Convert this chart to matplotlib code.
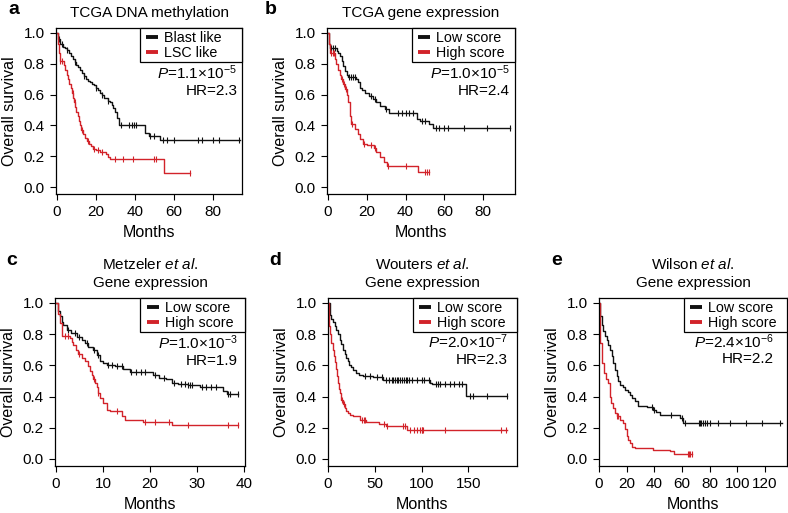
"""Kaplan-Meier survival panels (a-e) redrawn with matplotlib."""

import matplotlib
matplotlib.use("Agg")
import matplotlib.pyplot as plt
from matplotlib.lines import Line2D
import numpy as np

plt.rcParams["font.family"] = ["Liberation Sans", "DejaVu Sans"]
plt.rcParams["mathtext.fontset"] = "custom"
plt.rcParams["mathtext.rm"] = "Liberation Sans"
plt.rcParams["mathtext.it"] = "Liberation Sans:italic"
plt.rcParams["axes.linewidth"] = 0.9

BLACK = "#111111"
RED = "#d2232a"

# ---- panel a: TCGA DNA methylation ----
a_blast_t = [0, 0.5, 1.5, 3, 4, 5, 6, 7, 8, 9, 10, 11, 12, 13, 14, 15, 16, 17, 18,
             19, 20, 21, 22, 23, 24, 26, 27, 28, 29, 30, 31, 32, 45, 47, 53, 94]
a_blast_s = [1.0, 0.96, 0.93, 0.91, 0.90, 0.89, 0.87, 0.85, 0.83, 0.81, 0.79, 0.78,
             0.76, 0.74, 0.72, 0.70, 0.69, 0.68, 0.67, 0.66, 0.645, 0.63, 0.61, 0.60,
             0.58, 0.56, 0.55, 0.53, 0.51, 0.49, 0.45, 0.405, 0.35, 0.33, 0.305, 0.305]
a_blast_cens = [1, 2.5, 5, 9, 14, 20, 23, 26, 33, 37, 38.5, 39.5, 40.5, 48, 50,
                54.5, 56.5, 60, 72.5, 74.5, 80, 83, 93.5]
a_lsc_t = [0, 0.3, 0.8, 1.5, 3.5, 4.3, 5, 5.7, 6.4, 7, 7.6, 8.2, 8.8, 9.4, 10, 10.6,
           11.2, 11.8, 12.5, 13.5, 14.5, 15.5, 16.5, 17.5, 18.5, 20, 22, 25, 26, 27,
           55, 68.5]
a_lsc_s = [1.0, 0.93, 0.87, 0.82, 0.79, 0.76, 0.73, 0.70, 0.67, 0.64, 0.61, 0.58,
           0.55, 0.52, 0.49, 0.46, 0.43, 0.40, 0.37, 0.345, 0.32, 0.30, 0.28, 0.265,
           0.25, 0.24, 0.23, 0.215, 0.195, 0.18, 0.09, 0.09]
a_lsc_cens = [1.5, 2.5, 8, 9, 13, 16, 19, 21, 23, 30, 34, 39, 50, 51, 68.5]

# ---- panel b: TCGA gene expression ----
b_low_t = [0, 0.5, 1, 4.4, 5.2, 6, 7, 7.8, 8.7, 9.6, 10.5, 14.5, 15.5, 16.5, 17.5,
           19, 21, 23, 25, 27, 29.5, 31.5, 46, 47.5, 52, 54, 94]
b_low_s = [1.0, 0.93, 0.90, 0.88, 0.87, 0.85, 0.82, 0.785, 0.75, 0.73, 0.715, 0.70,
           0.68, 0.645, 0.63, 0.61, 0.59, 0.57, 0.55, 0.525, 0.505, 0.48, 0.44, 0.43,
           0.41, 0.385, 0.385]
b_low_cens = [1.5, 2.5, 3.5, 11, 12, 13, 14, 22, 24, 30, 36, 38, 40, 42, 44, 48.5,
              50, 55.5, 57.5, 60, 62, 70, 82, 94]
b_high_t = [0, 0.3, 1, 3.5, 4.3, 5.2, 6, 6.8, 7.8, 8.7, 9.6, 10.4, 11.3, 11.8, 14,
            15.5, 16.5, 18.3, 20, 23.5, 25, 27, 28.7, 30.5, 46.5, 52]
b_high_s = [1.0, 0.93, 0.87, 0.83, 0.80, 0.76, 0.73, 0.70, 0.667, 0.634, 0.60, 0.55,
            0.46, 0.41, 0.375, 0.345, 0.31, 0.28, 0.27, 0.255, 0.225, 0.195, 0.16,
            0.14, 0.095, 0.095]
b_high_cens = [1.5, 2.5, 3, 7, 8.5, 9.3, 12.5, 18.5, 22, 24, 31, 40, 50, 51, 52]

# ---- panel c: Metzeler et al. ----
c_low_t = [0, 0.5, 0.85, 1.2, 1.56, 2.3, 3.3, 4.4, 5.5, 6.2, 6.9, 7.9, 8.7, 9.4, 10,
           10.8, 12.6, 14.3, 15.7, 19.3, 20.7, 22, 23.5, 24.6, 26, 28, 30.6, 35.6,
           36.3, 38.8]
c_low_s = [1.0, 0.95, 0.915, 0.88, 0.86, 0.83, 0.81, 0.785, 0.765, 0.745, 0.72, 0.70,
           0.665, 0.63, 0.615, 0.605, 0.595, 0.58, 0.56, 0.555, 0.54, 0.52, 0.51, 0.49,
           0.48, 0.475, 0.46, 0.435, 0.415, 0.415]
c_low_cens = [2.5, 4, 5, 6.5, 8, 9, 11, 12, 13, 14, 16, 17, 18, 19, 21, 23, 25, 26.5,
              27.5, 28, 28.5, 29, 31, 32, 33, 34, 36.5, 37, 38.8]
c_high_t = [0, 0.4, 0.8, 1.2, 3, 3.4, 3.7, 4.2, 4.75, 5.5, 6.2, 6.9, 7.2, 7.6, 7.9,
            8.3, 8.65, 9.0, 9.4, 10, 10.8, 11.5, 14, 14.7, 18.6, 24.6, 38.8]
c_high_s = [1.0, 0.93, 0.87, 0.79, 0.775, 0.75, 0.73, 0.70, 0.67, 0.65, 0.625, 0.595,
            0.565, 0.54, 0.51, 0.49, 0.46, 0.425, 0.39, 0.36, 0.315, 0.305, 0.275,
            0.25, 0.235, 0.215, 0.215]
c_high_cens = [2, 2.5, 5, 8, 9, 13, 19, 21, 24, 28, 36.5, 38.8]

# ---- panel d: Wouters et al. ----
d_low_t = [0, 1.8, 3.6, 5.4, 7, 9, 11, 12.5, 14, 16, 18, 19.6, 21, 23, 25, 27, 30,
           33, 37.5, 48, 59, 109, 111, 148, 191]
d_low_s = [1.0, 0.925, 0.90, 0.88, 0.855, 0.83, 0.80, 0.765, 0.735, 0.70, 0.67,
           0.647, 0.625, 0.605, 0.59, 0.573, 0.55, 0.54, 0.532, 0.524, 0.505, 0.485,
           0.48, 0.405, 0.405]
d_low_cens = [40, 45, 52, 58, 62, 65, 68, 70, 72, 74, 75, 77, 79, 81, 83, 85, 87, 90,
              95, 100, 103, 108, 115, 118, 120, 125, 130, 135, 140, 143, 152, 155,
              170, 191]
d_high_t = [0, 1, 2.5, 3.6, 5, 6, 7, 8.2, 9.5, 10.7, 11.5, 12.5, 14.3, 16, 17.9,
            19.5, 21.4, 24, 27, 34, 41, 55, 62.5, 84, 191]
d_high_s = [1.0, 0.85, 0.80, 0.745, 0.70, 0.66, 0.62, 0.575, 0.53, 0.485, 0.45, 0.42,
            0.38, 0.35, 0.33, 0.31, 0.295, 0.285, 0.274, 0.252, 0.235, 0.225, 0.21,
            0.185, 0.185]
d_high_cens = [15, 17, 36, 38, 40, 60, 63, 80, 82, 88, 92, 95, 98, 100, 101, 102,
               125, 185, 190]

# ---- panel e: Wilson et al. ----
e_low_t = [0, 0.7, 2, 3, 4.2, 5.5, 6.8, 8, 9.2, 10.4, 11.6, 12.8, 14, 15.2, 17, 18.8,
           20.6, 22.4, 24.2, 26, 28.4, 34.5, 39, 41.5, 44, 58.5, 61, 132]
e_low_s = [1.0, 0.915, 0.86, 0.82, 0.79, 0.765, 0.73, 0.70, 0.66, 0.615, 0.57, 0.53,
           0.50, 0.475, 0.46, 0.445, 0.43, 0.41, 0.39, 0.37, 0.338, 0.335, 0.316,
           0.30, 0.284, 0.263, 0.232, 0.232]
e_low_cens = [38, 40, 52, 60, 62, 72, 73, 74, 75, 77, 78, 80, 86, 95, 106, 118, 131]
e_high_t = [0, 0.7, 2, 3.6, 5, 6.7, 8, 9, 10.3, 11.6, 12.8, 15.2, 17.6, 19, 20, 21,
            22.4, 24, 26, 39, 51, 54, 67]
e_high_s = [1.0, 0.745, 0.615, 0.55, 0.51, 0.487, 0.40, 0.36, 0.33, 0.295, 0.274,
            0.25, 0.23, 0.19, 0.145, 0.12, 0.10, 0.08, 0.07, 0.06, 0.05, 0.035, 0.035]
e_high_cens = [13, 14, 64, 65, 66, 67]


def draw_km(ax, t, s, cens, color):
    """Draw a step survival curve with censor ticks."""
    t = np.asarray(t, dtype=float)
    s = np.asarray(s, dtype=float)
    ax.step(t, s, where="post", color=color, lw=1.0)
    cens = np.asarray(cens, dtype=float)
    idx = np.searchsorted(t, cens, side="right") - 1
    ax.plot(cens, s[idx], ls="none", marker="|", ms=5, mew=0.8, color=color)


def style_axes(ax, xlim, xticks, labels, pval, hr, text_x):
    ax.set_xlim(*xlim)
    ax.set_ylim(-0.045, 1.032)
    ax.set_xticks(xticks)
    ax.set_yticks([0.0, 0.2, 0.4, 0.6, 0.8, 1.0])
    ax.set_yticklabels(["0.0", "0.2", "0.4", "0.6", "0.8", "1.0"])
    ax.tick_params(direction="out", length=4.5, width=0.8, labelsize=11, pad=3.5)
    ax.set_xlabel("Months", fontsize=11.5, labelpad=4)
    ax.set_ylabel("Overall survival", fontsize=11.5, labelpad=5)
    handles = [Line2D([], [], ls="none", marker="_", ms=8, mew=2.8, color=BLACK),
               Line2D([], [], ls="none", marker="_", ms=8, mew=2.8, color=RED)]
    leg = ax.legend(handles, labels, loc="upper left", mode="expand",
                    bbox_to_anchor=(0.45, 0.5, 0.55, 0.5), borderaxespad=0,
                    fancybox=False, fontsize=10.3, handlelength=1.3,
                    handletextpad=0.2, labelspacing=0.05, borderpad=0.2,
                    framealpha=1)
    leg.get_frame().set_edgecolor("black")
    leg.get_frame().set_linewidth(0.9)
    ax.text(text_x, pval[1], r"$\mathit{P}$=" + pval[0], ha="right", va="center",
            fontsize=11, transform=ax.get_yaxis_transform())
    ax.text(text_x, hr[1], "HR=" + hr[0], ha="right", va="center", fontsize=11,
            transform=ax.get_yaxis_transform())


fig = plt.figure(figsize=(7.88, 5.13), dpi=100)

ax_a = fig.add_axes([0.0711, 0.6218, 0.2360, 0.3236])
ax_b = fig.add_axes([0.4150, 0.6218, 0.2386, 0.3236])
ax_c = fig.add_axes([0.0698, 0.0916, 0.2411, 0.3275])
ax_d = fig.add_axes([0.4162, 0.0916, 0.2398, 0.3275])
ax_e = fig.add_axes([0.7602, 0.0916, 0.2386, 0.3275])

draw_km(ax_a, a_blast_t, a_blast_s, a_blast_cens, BLACK)
draw_km(ax_a, a_lsc_t, a_lsc_s, a_lsc_cens, RED)
style_axes(ax_a, (-0.5, 95), [0, 20, 40, 60, 80], ["Blast like", "LSC like"],
           (r"1.1×10$^{-5}$", 0.74), ("2.3", 0.625), 0.975)
ax_a.set_title("TCGA DNA methylation", fontsize=11, pad=8)

draw_km(ax_b, b_low_t, b_low_s, b_low_cens, BLACK)
draw_km(ax_b, b_high_t, b_high_s, b_high_cens, RED)
style_axes(ax_b, (-0.5, 96.5), [0, 20, 40, 60, 80], ["Low score", "High score"],
           (r"1.0×10$^{-5}$", 0.74), ("2.4", 0.625), 0.973)
ax_b.set_title("TCGA gene expression", fontsize=11, pad=8)

draw_km(ax_c, c_low_t, c_low_s, c_low_cens, BLACK)
draw_km(ax_c, c_high_t, c_high_s, c_high_cens, RED)
style_axes(ax_c, (-0.2, 40.2), [0, 10, 20, 30, 40], ["Low score", "High score"],
           (r"1.0×10$^{-3}$", 0.745), ("1.9", 0.63), 0.963)
ax_c.set_title("Metzeler $\\mathit{et\\ al.}$\nGene expression", fontsize=11,
               pad=8, linespacing=1.35)

draw_km(ax_d, d_low_t, d_low_s, d_low_cens, BLACK)
draw_km(ax_d, d_high_t, d_high_s, d_high_cens, RED)
style_axes(ax_d, (0, 202), [0, 50, 100, 150], ["Low score", "High score"],
           (r"2.0×10$^{-7}$", 0.75), ("2.3", 0.635), 0.952)
ax_d.set_title("Wouters $\\mathit{et\\ al.}$\nGene expression", fontsize=11,
               pad=8, linespacing=1.35)

draw_km(ax_e, e_low_t, e_low_s, e_low_cens, BLACK)
draw_km(ax_e, e_high_t, e_high_s, e_high_cens, RED)
style_axes(ax_e, (0, 136), [0, 20, 40, 60, 80, 100, 120], ["Low score", "High score"],
           (r"2.4×10$^{-6}$", 0.755), ("2.2", 0.64), 0.928)
ax_e.set_title("Wilson $\\mathit{et\\ al.}$\nGene expression", fontsize=11,
               pad=8, linespacing=1.35)

for letter, x, y in [("a", 0.010, 0.982), ("b", 0.336, 0.982), ("c", 0.008, 0.492),
                     ("d", 0.342, 0.492), ("e", 0.700, 0.492)]:
    fig.text(x, y, letter, fontsize=14, fontweight="bold", ha="left", va="center")

fig.savefig("out.png", dpi=100)
